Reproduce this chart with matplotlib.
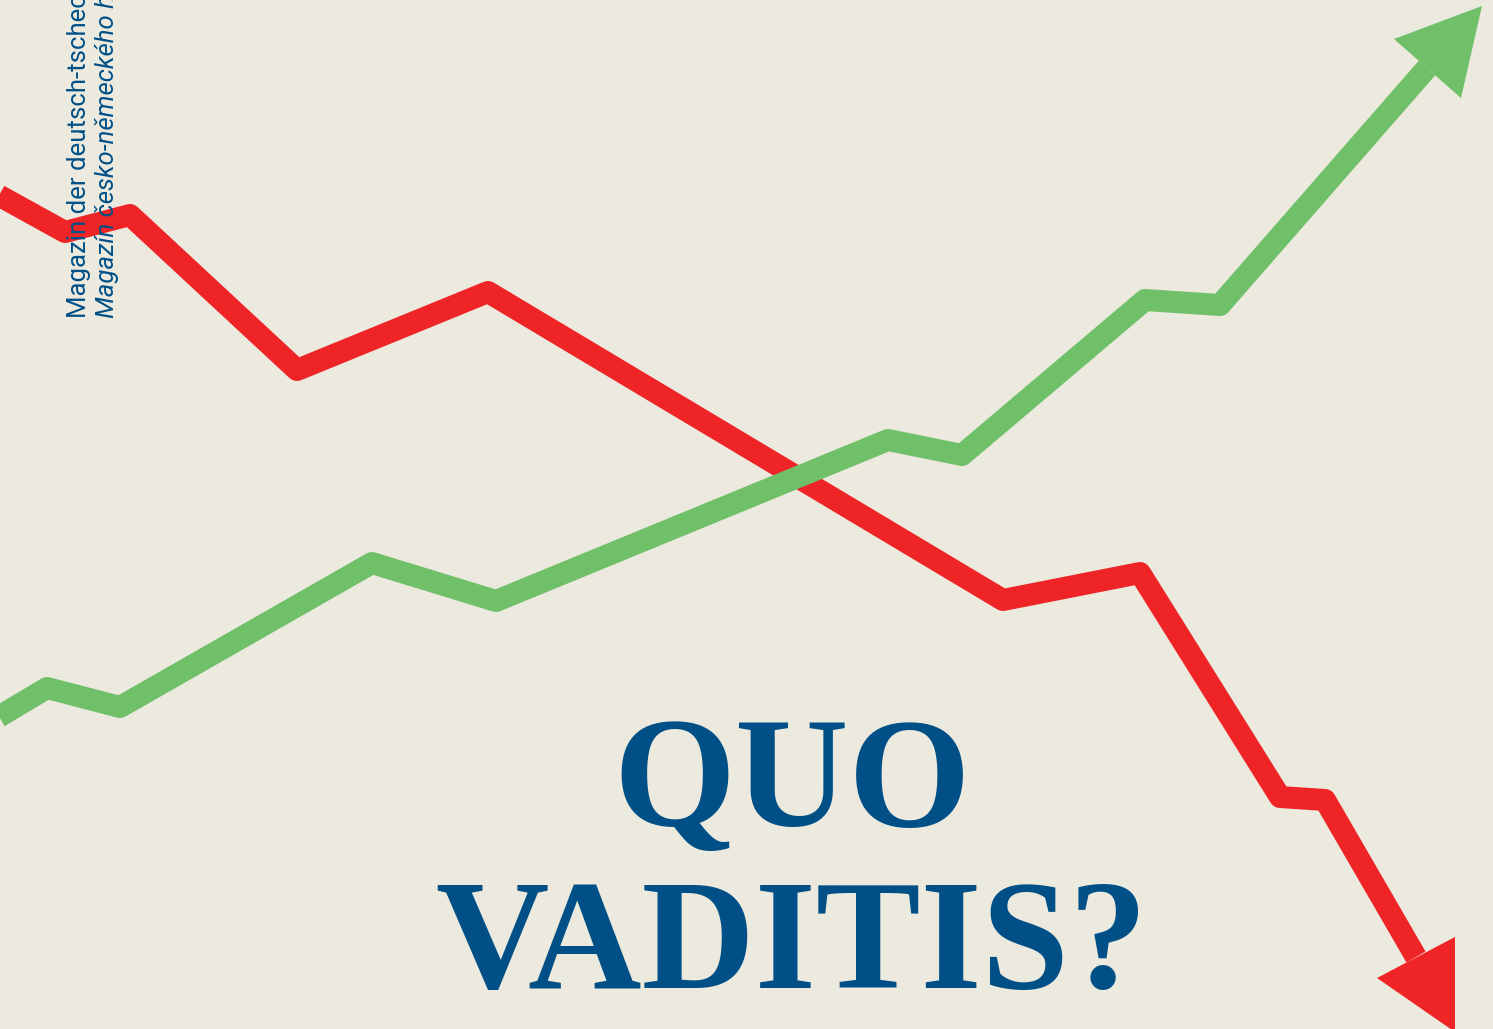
import matplotlib.pyplot as plt
from matplotlib.patches import Polygon

# picture size in pixels, axes run in pixel units (y down)
W, H = 1493, 1029

bg = "#ECE9DE"
red = "#EE2427"
green = "#70BF69"
blue = "#005087"

# red series: falling, ends in an arrow pointing down
red_x = [-20, 65, 130, 297, 488, 1003, 1140, 1280, 1325, 1416]
red_y = [185, 232, 215, 370, 292, 600, 573, 797, 800, 957]
red_head_x = [1377, 1455, 1455]
red_head_y = [978, 937, 1032]

# green series: rising, ends in an arrow pointing up
green_x = [-20, 47, 120, 372, 496, 888, 962, 1145, 1220, 1427]
green_y = [728, 688, 707, 563, 601, 440, 455, 300, 305, 68]
green_head_x = [1394, 1482, 1461]
green_head_y = [39, 6, 98]

side_de = "Magazin der deutsch-tschechischen Wirtschaft"
side_cz = "Magazín česko-německého hospodářství"
title_1 = "QUO"
title_2 = "VADITIS?"

fig = plt.figure(figsize=(W / 100, H / 100), dpi=100)
fig.patch.set_facecolor(bg)
ax = fig.add_axes([0, 0, 1, 1])
ax.set_facecolor(bg)
ax.set_xlim(0, W)
ax.set_ylim(H, 0)
ax.axis("off")

lw = 22 * 72 / 100
ax.plot(red_x, red_y, color=red, lw=lw, solid_joinstyle="round", solid_capstyle="butt", zorder=2)
ax.add_patch(Polygon(list(zip(red_head_x, red_head_y)), closed=True, color=red, lw=0, zorder=2))
ax.plot(green_x, green_y, color=green, lw=lw, solid_joinstyle="round", solid_capstyle="butt", zorder=2)
ax.add_patch(Polygon(list(zip(green_head_x, green_head_y)), closed=True, color=green, lw=0, zorder=2))

# vertical masthead text on the left (runs off the top edge like the original)
ax.text(86, 318, side_de, rotation=90, rotation_mode="anchor", ha="left", va="baseline",
        fontsize=18.5, family="Roboto", color=blue, zorder=5)
ax.text(114, 318, side_cz, rotation=90, rotation_mode="anchor", ha="left", va="baseline",
        fontsize=18.5, family="Roboto", style="italic", color=blue, zorder=5)

ax.text(792, 826, title_1, ha="center", va="baseline", fontsize=113,
        family="Liberation Serif", weight="bold", color=blue, zorder=5)
ax.text(791, 988, title_2, ha="center", va="baseline", fontsize=113,
        family="Liberation Serif", weight="bold", color=blue, zorder=5)

fig.savefig("out.png", dpi=100, facecolor=bg)
